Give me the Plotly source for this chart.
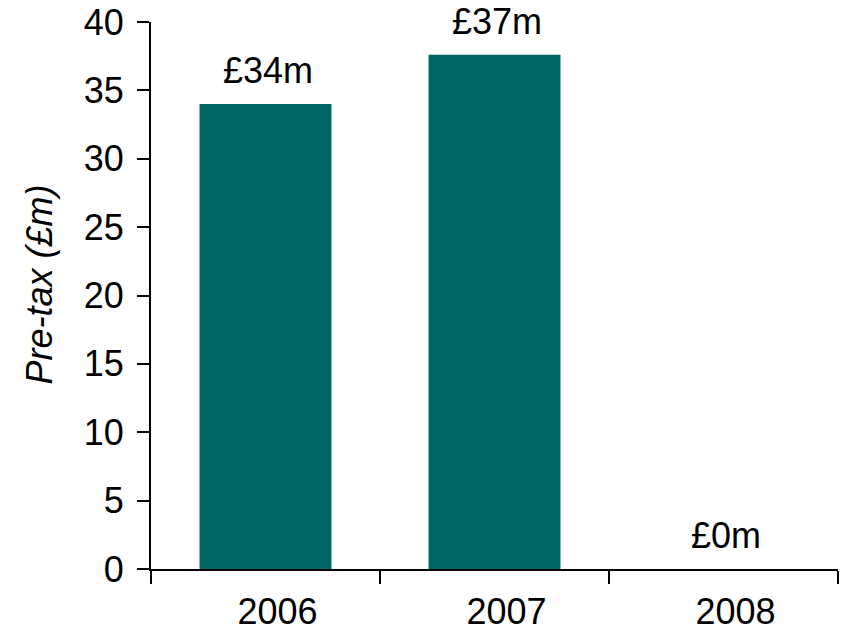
import plotly.graph_objects as go

years = ["2006", "2007", "2008"]
pretax = [34.0, 37.6, 0.0]
bar_labels = ["£34m", "£37m", "£0m"]
y_ticks = [0, 5, 10, 15, 20, 25, 30, 35, 40]

FONT = "Liberation Sans, Arial, sans-serif"

fig = go.Figure()
fig.add_trace(go.Bar(x=years, y=pretax, marker=dict(color="#006765", line=dict(width=0)),
                     width=0.576, showlegend=False, hoverinfo="skip"))

for i, (v, lab) in enumerate(zip(pretax, bar_labels)):
    fig.add_annotation(x=i, y=v, text=lab, showarrow=False, xanchor="center",
                       yanchor="bottom", yshift=11, xshift=2,
                       font=dict(family=FONT, size=36, color="black"))

fig.add_annotation(xref="paper", yref="paper", x=0, y=0.5, xshift=-112, yshift=11,
                   text="<i>Pre-tax (£m)</i>", textangle=-90, showarrow=False,
                   xanchor="center", yanchor="middle",
                   font=dict(family=FONT, size=36, color="black"))

fig.update_layout(
    width=845, height=635,
    margin=dict(l=151, r=7, t=22, b=66, pad=0, autoexpand=False),
    paper_bgcolor="white", plot_bgcolor="white",
    font=dict(family=FONT, size=36, color="black"),
    bargap=0.424,
)
fig.update_xaxes(type="category", range=[-0.5, 2.5], showline=True, linecolor="black",
                 linewidth=2, ticks="outside", tickson="boundaries", ticklen=13,
                 tickwidth=2, tickcolor="black", showgrid=False, zeroline=False,
                 automargin=False, ticklabelstandoff=10, ticklabelshift=12,
                 tickfont=dict(family=FONT, size=36, color="black"))
fig.update_yaxes(range=[0, 40], tickvals=y_ticks, showline=True, linecolor="black",
                 linewidth=2, ticks="outside", ticklen=12, tickwidth=2, tickcolor="black",
                 showgrid=False, zeroline=False, automargin=False,
                 ticklabelstandoff=6,
                 tickfont=dict(family=FONT, size=36, color="black"))

fig.write_html("out.html", config={"displayModeBar": False},
               post_script="document.body.style.margin='0';document.body.style.overflow='hidden';")
